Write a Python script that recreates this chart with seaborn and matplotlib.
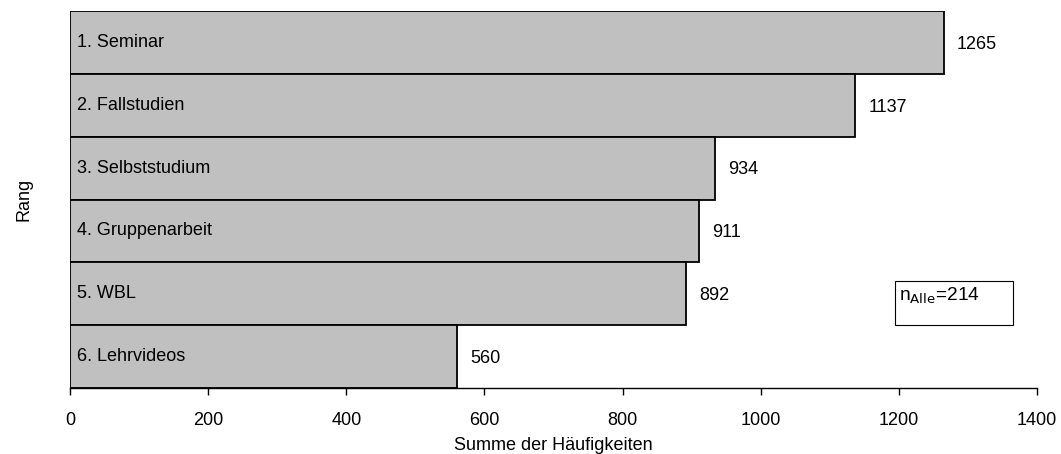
import matplotlib
matplotlib.use("Agg")
import matplotlib.pyplot as plt
from matplotlib.patches import Rectangle
import seaborn as sns
import pandas as pd

categories = ["1. Seminar", "2. Fallstudien", "3. Selbststudium",
              "4. Gruppenarbeit", "5. WBL", "6. Lehrvideos"]
values = [1265, 1137, 934, 911, 892, 560]
x_ticks = [0, 200, 400, 600, 800, 1000, 1200, 1400]

sns.set_theme(style="white")
plt.rcParams["font.family"] = ["Liberation Sans", "DejaVu Sans"]
plt.rcParams["text.color"] = "black"
plt.rcParams["axes.labelcolor"] = "black"
plt.rcParams["xtick.color"] = "black"

FS = 13

df = pd.DataFrame({"Rang": categories, "Summe": values})

fig = plt.figure(figsize=(10.61, 4.54), dpi=100)
ax = fig.add_axes([70 / 1061, 1 - 388 / 454, (1037 - 70) / 1061, (388 - 11) / 454])

sns.barplot(data=df, x="Summe", y="Rang", order=categories, orient="h",
            color="#C0C0C0", saturation=1, width=1.0,
            edgecolor="black", linewidth=1.3, ax=ax)

ax.set_xlim(0, 1400)
ax.set_ylim(len(categories) - 0.5, -0.5)
ax.set_xticks(x_ticks)
ax.set_xticklabels([str(t) for t in x_ticks], fontsize=FS)
ax.set_yticks([])
ax.set_xlabel("Summe der Häufigkeiten", fontsize=FS, labelpad=6)
ax.set_ylabel("Rang", fontsize=FS, labelpad=27)

for side in ["top", "right", "left"]:
    ax.spines[side].set_visible(False)
ax.spines["bottom"].set_color("black")
ax.spines["bottom"].set_linewidth(1.0)
ax.tick_params(axis="x", direction="out", length=5, width=1, color="black",
               bottom=True, pad=12)

for i, (cat, val) in enumerate(zip(categories, values)):
    ax.text(10, i, cat, va="center", ha="left", fontsize=FS)
    ax.text(val + 19, i + 0.03, str(val), va="center", ha="left", fontsize=FS)

# sample size note
ax.add_patch(Rectangle((1194, 3.79), 171, 0.70, facecolor="white",
                       edgecolor="black", linewidth=0.8, zorder=4))
ax.text(1200, 4.03, r"n$_{\mathrm{Alle}}$=214", va="center", ha="left",
        fontsize=13.8, zorder=5)

fig.savefig("out.png", dpi=100)
